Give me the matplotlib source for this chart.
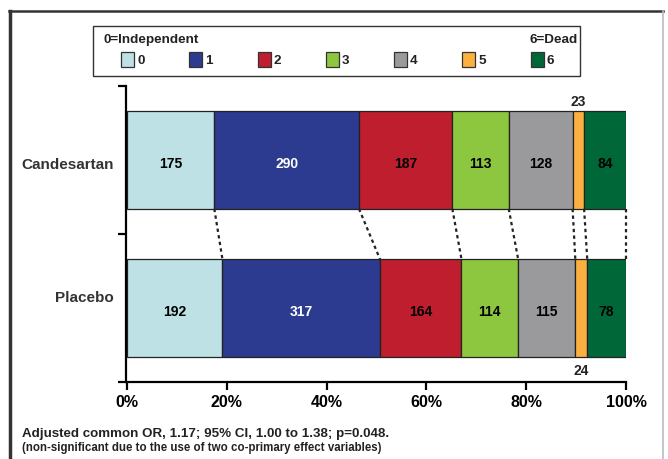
import matplotlib.pyplot as plt
from matplotlib.patches import Rectangle
from matplotlib.lines import Line2D
import numpy as np

plt.rcParams['font.family'] = ['Liberation Sans', 'DejaVu Sans']
plt.rcParams['font.weight'] = 'bold'

groups = ['Candesartan', 'Placebo']
scores = ['0', '1', '2', '3', '4', '5', '6']
candesartan = [175, 290, 187, 113, 128, 23, 84]
placebo = [192, 317, 164, 114, 115, 24, 78]
colors = ['#bde1e5', '#2c3a90', '#be1e2d', '#8dc63f', '#9a9a9c', '#fbb040', '#006838']
text_colors = ['black', 'white', 'black', 'black', 'black', 'black', 'black']

fig = plt.figure(figsize=(6.68, 4.6), dpi=100)
ax = fig.add_axes([127 / 668, 1 - 383 / 460, 499 / 668, 296 / 460])

ypos = {'Candesartan': 1.5, 'Placebo': 0.5}
label_y = {'Candesartan': 1.47, 'Placebo': 0.575}
h = 0.66
data = {'Candesartan': candesartan, 'Placebo': placebo}
cums = {}
for g in groups:
    vals = np.array(data[g], dtype=float)
    pct = vals / vals.sum() * 100
    left = np.concatenate([[0], np.cumsum(pct)[:-1]])
    cums[g] = np.cumsum(pct)
    ax.barh(ypos[g], pct, left=left, height=h, color=colors,
            edgecolor='#222222', linewidth=0.9)
    for i, (l, p, v) in enumerate(zip(left, pct, vals)):
        if p < 5:
            if g == 'Candesartan':
                ax.text(l + p / 2, ypos[g] + h / 2 + 0.02, str(int(v)),
                        ha='center', va='bottom', fontsize=10, fontweight='bold',
                        color='#222222')
            else:
                ax.text(l + p / 2, ypos[g] - h / 2 - 0.04, str(int(v)),
                        ha='center', va='top', fontsize=10, fontweight='bold',
                        color='#222222')
        else:
            ax.text(l + p / 2, ypos[g] - 0.02, str(int(v)), ha='center', va='center',
                    fontsize=10, fontweight='bold', color=text_colors[i])

# dotted connectors between the bars
for c1, c2 in zip(cums['Candesartan'], cums['Placebo']):
    ax.plot([c1, c2], [ypos['Candesartan'] - h / 2, ypos['Placebo'] + h / 2],
            color='#222222', linestyle=(0, (1.5, 1.5)), linewidth=1.6, clip_on=False)

ax.set_xlim(0, 100)
ax.set_ylim(0, 2)
ax.set_xticks([0, 20, 40, 60, 80, 100])
ax.set_xticklabels(['0%', '20%', '40%', '60%', '80%', '100%'],
                   fontsize=11.5, fontweight='bold')
ax.set_yticks([0, 1, 2])
ax.set_yticklabels([])
ax.tick_params(axis='both', direction='out', length=6, width=1.6, color='black')
ax.tick_params(axis='x', pad=3)
for g in groups:
    ax.text(-2.6, label_y[g], g, ha='right', va='center', fontsize=11,
            fontweight='bold', color='#333333', transform=ax.transData)
for s in ['top', 'right']:
    ax.spines[s].set_visible(False)
ax.spines['left'].set_linewidth(1.6)
ax.spines['bottom'].set_linewidth(1.6)
ax.spines['left'].set_position(('outward', 1))

# outer frame
fig.add_artist(Line2D([10 / 668, 10 / 668], [0, 1 - 12 / 460], color='#333333', linewidth=2.5))
fig.add_artist(Line2D([9 / 668, 663 / 668], [1 - 12 / 460, 1 - 12 / 460], color='#333333', linewidth=1.8))
fig.add_artist(Line2D([663 / 668, 663 / 668], [0, 1 - 12 / 460], color='#bbbbbb', linewidth=1.2))

# legend box
fig.add_artist(Rectangle((93 / 668, 1 - 77 / 460), 487 / 668, 50 / 460,
                         fill=False, edgecolor='#333333', linewidth=1.0,
                         transform=fig.transFigure))
fig.text(104 / 668, 1 - 40 / 460, '0=Independent', fontsize=9.7, fontweight='bold',
         ha='left', va='center', color='#222222')
fig.text(578 / 668, 1 - 40 / 460, '6=Dead', fontsize=9.7, fontweight='bold',
         ha='right', va='center', color='#222222')
for i, s in enumerate(scores):
    x0 = 121 + i * 68.3
    fig.add_artist(Rectangle((x0 / 668, 1 - 68 / 460), 13 / 668, 15 / 460,
                             facecolor=colors[i], edgecolor='#333333', linewidth=0.9,
                             transform=fig.transFigure))
    fig.text((x0 + 16) / 668, 1 - 61 / 460, s, fontsize=9.7, fontweight='bold',
             ha='left', va='center', color='#222222')

fig.text(22 / 668, 1 - 434 / 460, 'Adjusted common OR, 1.17; 95% CI, 1.00 to 1.38; p=0.048.',
         fontsize=9.6, fontweight='bold', ha='left', va='center', color='#222222')
fig.text(22 / 668, 1 - 448 / 460, '(non-significant due to the use of two co-primary effect variables)',
         fontsize=8.3, fontweight='bold', ha='left', va='center', color='#222222')

fig.savefig('out.png', dpi=100)
